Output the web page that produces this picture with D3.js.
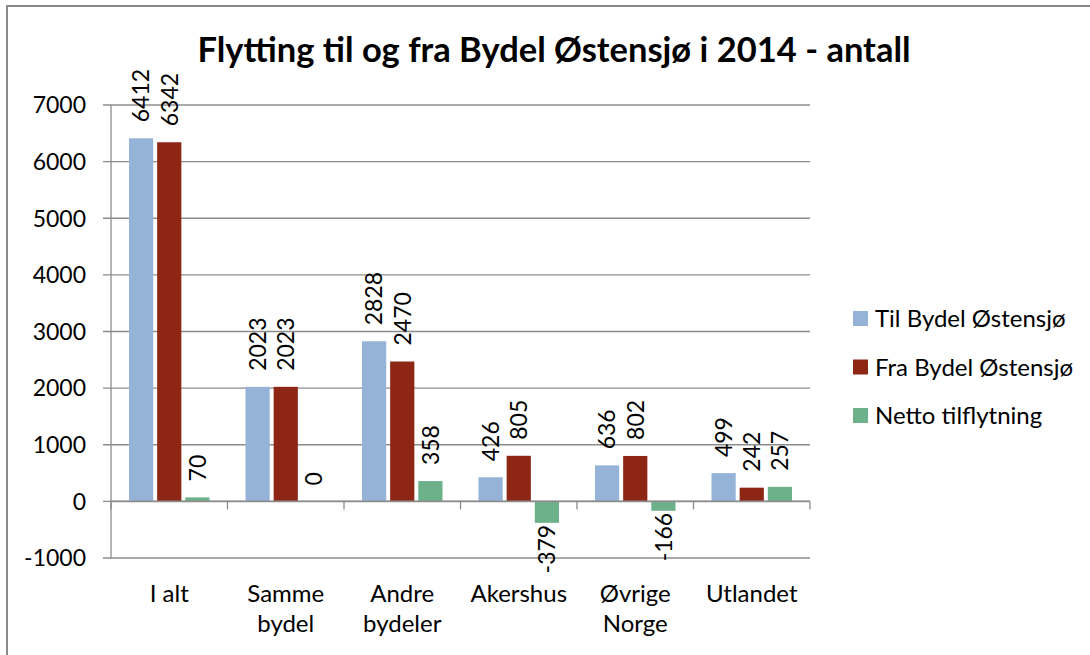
<!DOCTYPE html>
<html>
<head>
<meta charset="utf-8">
<script src="https://cdn.jsdelivr.net/npm/d3@7"></script>
<style>
  body { margin: 0; background: #fff; }
  svg { font-family: Lato, "Open Sans", sans-serif; }
  .grid line { stroke: #8c8c8c; stroke-width: 1.3; }
</style>
</head>
<body>
<div class="chart"></div>
<script>
// data
var categories = ["I alt", "Samme\nbydel", "Andre\nbydeler", "Akershus", "Øvrige\nNorge", "Utlandet"];
var seriesNames = ["Til Bydel Østensjø", "Fra Bydel Østensjø", "Netto tilflytning"];
var tilBydel = [6412, 2023, 2828, 426, 636, 499];
var fraBydel = [6342, 2023, 2470, 805, 802, 242];
var netto = [70, 0, 358, -379, -166, 257];
var yTicks = [-1000, 0, 1000, 2000, 3000, 4000, 5000, 6000, 7000];
var colors = ["#95b3d7", "#8e2616", "#6db18b"];

var width = 1090, height = 655;
var plotLeft = 111, plotRight = 810, plotTop = 105, plotBottom = 558;

var svg = d3.select(".chart").append("svg")
	.attr("width", width)
	.attr("height", height);

// frame
svg.append("path")
	.attr("d", "M7,655 V6 H1090")
	.attr("fill", "none")
	.attr("stroke", "#8a8a8a")
	.attr("stroke-width", 2);

var y = d3.scaleLinear()
	.domain([-1000, 7000])
	.range([plotBottom, plotTop]);

var x0 = d3.scaleBand()
	.domain(categories)
	.range([plotLeft, plotRight]);

var x1 = d3.scaleBand()
	.domain(d3.range(3))
	.range([18, x0.bandwidth() - 18])
	.paddingInner(0.14);

// gridlines
svg.append("g").attr("class", "grid")
	.selectAll("line")
	.data(yTicks)
	.enter().append("line")
		.attr("x1", plotLeft - 8)
		.attr("x2", plotRight)
		.attr("y1", function(d){ return y(d); })
		.attr("y2", function(d){ return y(d); });

// y axis line
svg.append("line")
	.attr("x1", plotLeft).attr("x2", plotLeft)
	.attr("y1", plotTop).attr("y2", plotBottom)
	.attr("stroke", "#8c8c8c").attr("stroke-width", 1.3);

// y labels
svg.append("g").selectAll("text")
	.data(yTicks)
	.enter().append("text")
		.attr("x", 86)
		.attr("y", function(d){ return y(d); })
		.attr("dy", "0.36em")
		.attr("text-anchor", "end")
		.attr("font-size", 23)
		.text(function(d){ return d; });

// bars
var rows = categories.map(function(c, i){
	return [tilBydel[i], fraBydel[i], netto[i]];
});

var groups = svg.append("g").selectAll("g")
	.data(rows)
	.enter().append("g")
		.attr("transform", function(d, i){ return "translate(" + x0(categories[i]) + ",0)"; });

groups.selectAll("rect")
	.data(function(d){ return d; })
	.enter().append("rect")
		.attr("x", function(d, j){ return x1(j); })
		.attr("width", x1.bandwidth())
		.attr("y", function(d){ return y(Math.max(0, d)); })
		.attr("height", function(d){ return Math.abs(y(d) - y(0)); })
		.attr("fill", function(d, j){ return colors[j]; });

// data labels
groups.selectAll("text")
	.data(function(d){ return d; })
	.enter().append("text")
		.attr("font-size", 23)
		.attr("text-anchor", function(d){ return d < 0 ? "end" : "start"; })
		.attr("dy", "0.36em")
		.attr("transform", function(d, j){
			var cx = x1(j) + x1.bandwidth() / 2;
			var ty = d < 0 ? y(d) + 2 : y(d) - 16;
			return "translate(" + cx + "," + ty + ") rotate(-90)";
		})
		.text(function(d){ return d; });

// zero line and category ticks
svg.append("line")
	.attr("x1", plotLeft).attr("x2", plotRight)
	.attr("y1", y(0)).attr("y2", y(0))
	.attr("stroke", "#8c8c8c").attr("stroke-width", 1.6);

svg.append("g").selectAll("line")
	.data(categories.concat([null]))
	.enter().append("line")
		.attr("x1", function(d, i){ return plotLeft + i * x0.step(); })
		.attr("x2", function(d, i){ return plotLeft + i * x0.step(); })
		.attr("y1", y(0))
		.attr("y2", y(0) + 8)
		.attr("stroke", "#8c8c8c").attr("stroke-width", 1.3);

// category labels
svg.append("g").selectAll("text")
	.data(categories)
	.enter().append("text")
		.attr("x", function(d){ return x0(d) + x0.bandwidth() / 2; })
		.attr("y", 602)
		.attr("text-anchor", "middle")
		.attr("font-size", 24)
		.each(function(d){
			var lines = d.split("\n");
			var t = d3.select(this);
			lines.forEach(function(l, k){
				t.append("tspan")
					.attr("x", t.attr("x"))
					.attr("dy", k == 0 ? 0 : 30)
					.text(l);
			});
		});

// title
svg.append("text")
	.attr("x", 554)
	.attr("y", 62)
	.attr("text-anchor", "middle")
	.attr("font-size", 34.5)
	.attr("font-weight", "bold")
	.text("Flytting til og fra Bydel Østensjø i 2014 - antall");

// legend
var legend = svg.append("g").selectAll("g")
	.data(seriesNames)
	.enter().append("g")
		.attr("transform", function(d, i){ return "translate(853," + (318.5 + i * 48.5) + ")"; });

legend.append("rect")
	.attr("y", -7.5)
	.attr("width", 15)
	.attr("height", 15)
	.attr("fill", function(d, i){ return colors[i]; });

legend.append("text")
	.attr("x", 22)
	.attr("dy", "0.36em")
	.attr("font-size", 24)
	.text(function(d){ return d; });
</script>
</body>
</html>
